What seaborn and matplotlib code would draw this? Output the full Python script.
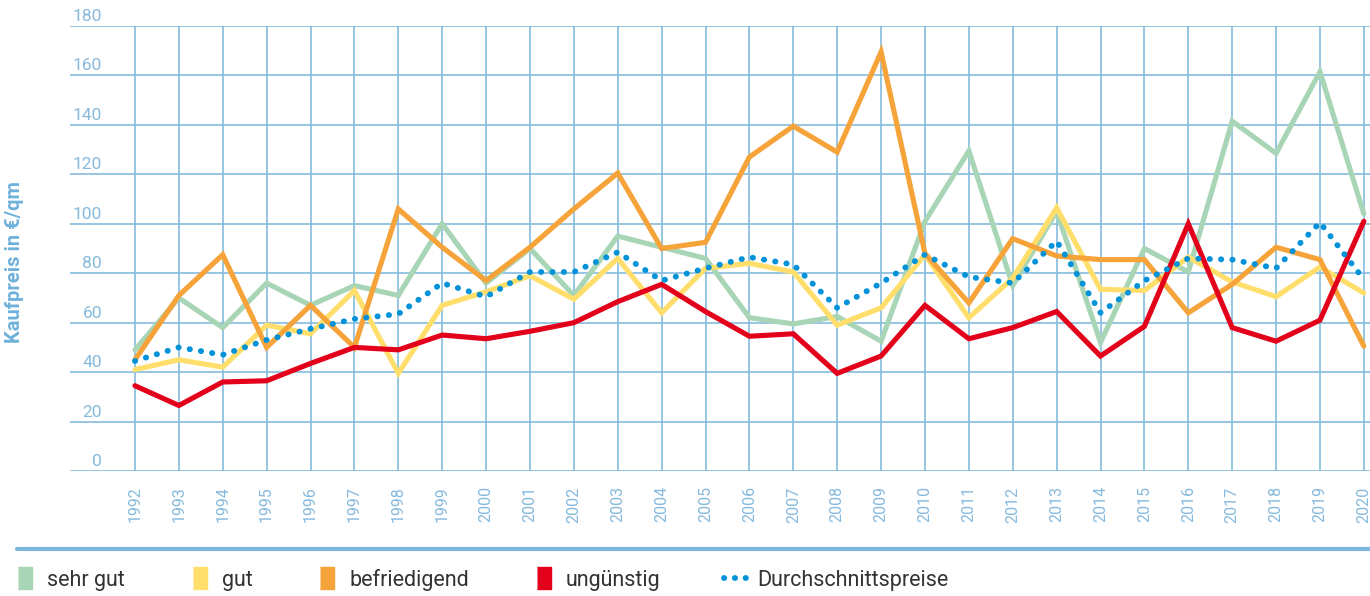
import matplotlib
matplotlib.use("Agg")
import matplotlib.pyplot as plt
import seaborn as sns
import pandas as pd
from matplotlib.lines import Line2D
from matplotlib.transforms import ScaledTranslation

years = list(range(1992, 2021))

sehr_gut = [49, 70, 58, 76, 67, 75, 71, 100, 76, 90, 71, 95, 90.5, 86, 62, 59.5, 62.5, 52.5,
            101, 129.5, 75, 105, 52, 90, 80.5, 141.5, 128.5, 161.5, 104]
gut = [41, 45, 42, 59, 55.5, 73, 39.5, 67, 72.5, 79, 69.5, 86, 64, 82, 84, 80.5, 59, 66,
       87.5, 62, 78, 106.5, 73.5, 73, 86.5, 76.5, 70.5, 82.5, 72]
befriedigend = [45, 71, 87.5, 50, 67, 50, 106, 90.5, 77, 90.5, 106, 120.5, 90, 92.5, 127, 139.5,
                129, 169.5, 88, 68, 94, 87, 85.5, 85.5, 64, 75.5, 90.5, 85.5, 50.5]
unguenstig = [34.5, 26.5, 36, 36.5, 43.5, 50, 49, 55, 53.5, 56.5, 60, 68.5, 75.5, 64.5, 54.5,
              55.5, 39.5, 46.5, 67, 53.5, 58, 64.5, 46.5, 58.5, 100, 58, 52.5, 61, 101]
durchschnitt = [44.5, 50, 47, 53, 57.5, 61.5, 63.5, 76, 70.5, 80.5, 80.5, 88.5, 77, 82, 86.5,
                83.5, 66, 76, 87.5, 78.5, 76, 93, 64, 77, 86, 85.5, 82, 100.5, 77.5]

labels = ["sehr gut", "gut", "befriedigend", "ungünstig", "Durchschnittspreise"]
colors = ["#A9D5B7", "#FFDE6B", "#F6A33A", "#E3001B", "#0092D9"]
yticks = list(range(0, 181, 20))

grid_c = "#85BCDE"
tick_c = "#86BADD"

sns.set_style("white")
plt.rcParams["font.family"] = ["Roboto", "DejaVu Sans"]

fig = plt.figure(figsize=(13.70, 5.96), dpi=100)
ax = fig.add_axes([70 / 1370, 1 - 471 / 596, 1300 / 1370, 445 / 596])

series = [sehr_gut, gut, befriedigend, unguenstig]
for vals, lab, col in zip(series, labels[:4], colors[:4]):
    df = pd.DataFrame({"Jahr": years, "Preis": vals})
    sns.lineplot(data=df, x="Jahr", y="Preis", ax=ax, color=col, lw=3.7,
                 solid_joinstyle="miter", zorder=3)
df = pd.DataFrame({"Jahr": years, "Preis": durchschnitt})
sns.lineplot(data=df, x="Jahr", y="Preis", ax=ax, color=colors[4], lw=4.2,
             linestyle=(0, (0.05, 1.9)), dash_capstyle="round", zorder=4)

ax.set_xlim(1990.52, 2020.14)
ax.set_ylim(0, 180)
ax.set_xticks(years)
ax.set_xticklabels([str(y) for y in years], rotation=90, va="top", ha="center")
ax.set_yticks(yticks)
ax.set_yticklabels([str(t) for t in yticks])
ax.grid(True, color=grid_c, lw=1.2)
for s in ax.spines.values():
    s.set_visible(False)
ax.tick_params(axis="x", length=0, pad=11, labelsize=11.5, labelcolor=tick_c)
ax.tick_params(axis="y", length=0, pad=-23, labelsize=12.5, labelcolor=tick_c)
for t in ax.get_yticklabels():
    t.set_horizontalalignment("right")
    t.set_transform(t.get_transform() + ScaledTranslation(0, 0.11, fig.dpi_scale_trans))

ax.set_xlabel("")
ax.set_ylabel("Kaufpreis in €/qm", fontsize=14.5, fontweight="bold", color="#6FB1DB")
ax.yaxis.set_label_coords(-0.035, 0.47)

# separator line above legend
fig.add_artist(Line2D([17 / 1370, 1], [1 - 549 / 596] * 2, transform=fig.transFigure,
                      color="#7DB7DD", lw=3))

rect = [(-0.32, -0.5), (0.32, -0.5), (0.32, 0.5), (-0.32, 0.5)]
handles = [Line2D([], [], marker=rect, markersize=16, linestyle="none", color=c)
           for c in colors[:4]]
handles.append(Line2D([], [], color=colors[4], lw=4.2, linestyle=(0, (0.05, 1.8)),
                      dash_capstyle="round"))
fig.legend(handles, labels, loc="center left", bbox_to_anchor=(13.6 / 1370, 1 - 580 / 596),
           ncol=5, frameon=False, fontsize=15.5, handlelength=1.05, handletextpad=0.5,
           columnspacing=2.95, labelcolor="#333333", borderaxespad=0, borderpad=0)

fig.savefig("out.png", dpi=100)
